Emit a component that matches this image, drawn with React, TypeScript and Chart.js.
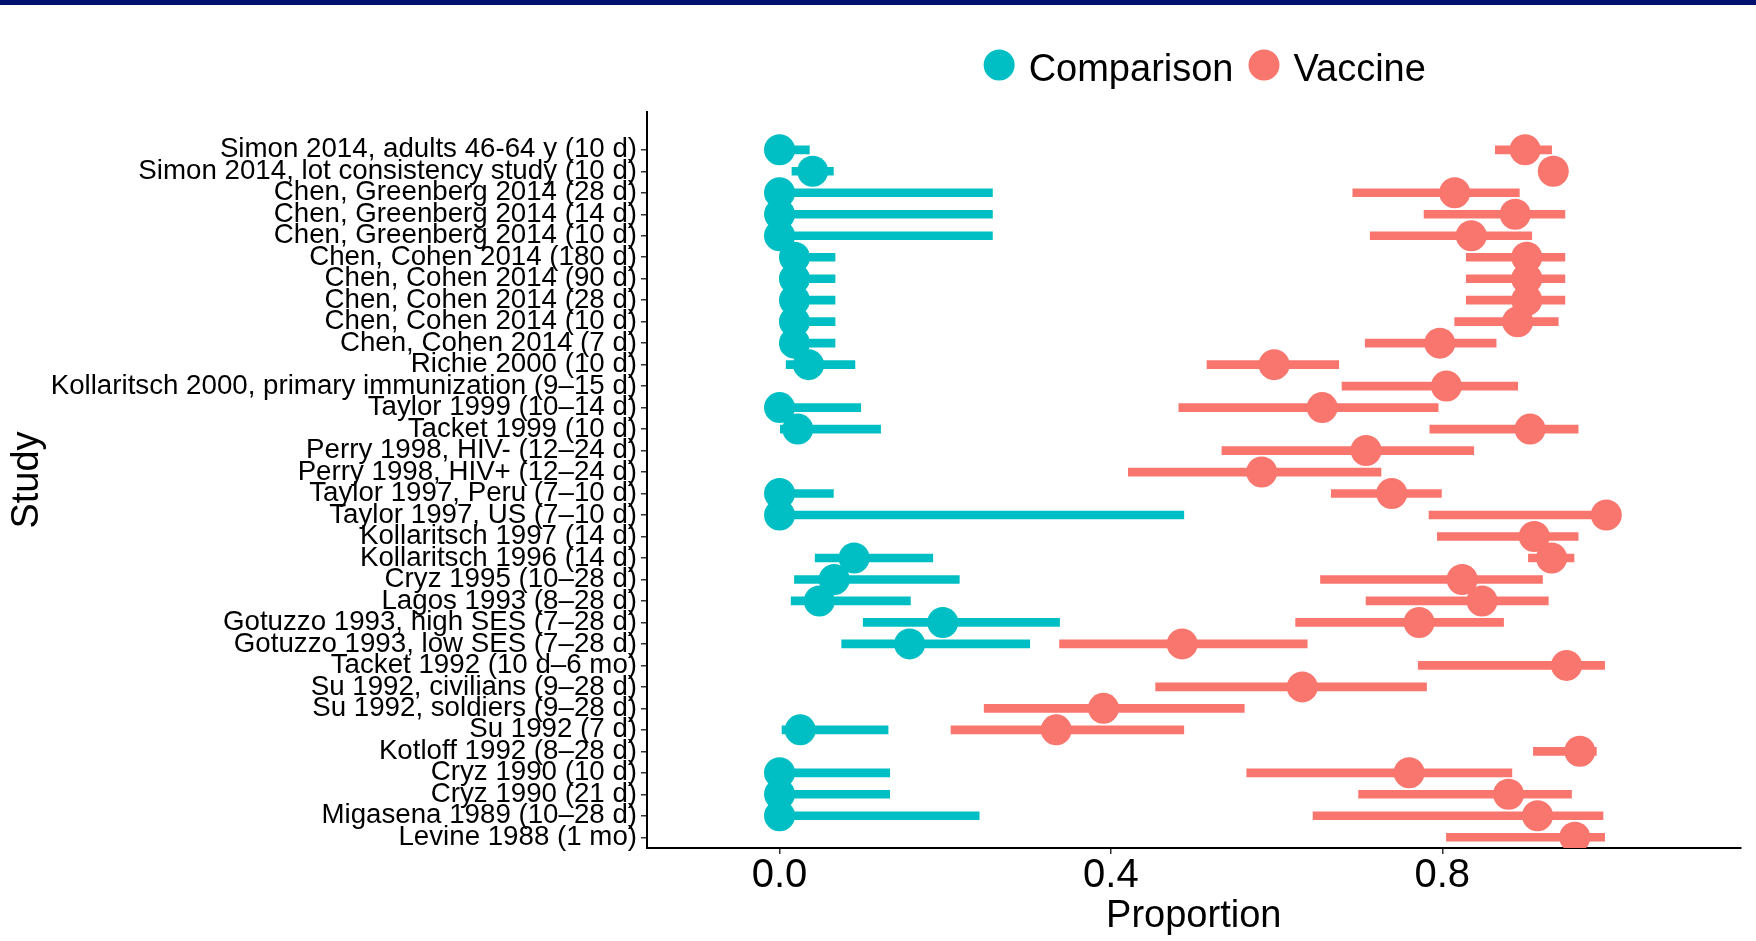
import React, { useEffect, useRef } from "react";
import { Chart, registerables } from "chart.js";

Chart.register(...registerables);

const FONT = '"Liberation Sans", Arial, Helvetica, sans-serif';

const studies: string[] = [
  "Simon 2014, adults 46-64 y (10 d)",
  "Simon 2014, lot consistency study (10 d)",
  "Chen, Greenberg 2014 (28 d)",
  "Chen, Greenberg 2014 (14 d)",
  "Chen, Greenberg 2014 (10 d)",
  "Chen, Cohen 2014 (180 d)",
  "Chen, Cohen 2014 (90 d)",
  "Chen, Cohen 2014 (28 d)",
  "Chen, Cohen 2014 (10 d)",
  "Chen, Cohen 2014 (7 d)",
  "Richie 2000 (10 d)",
  "Kollaritsch 2000, primary immunization (9–15 d)",
  "Taylor 1999 (10–14 d)",
  "Tacket 1999 (10 d)",
  "Perry 1998, HIV- (12–24 d)",
  "Perry 1998, HIV+ (12–24 d)",
  "Taylor 1997, Peru (7–10 d)",
  "Taylor 1997, US (7–10 d)",
  "Kollaritsch 1997 (14 d)",
  "Kollaritsch 1996 (14 d)",
  "Cryz 1995 (10–28 d)",
  "Lagos 1993 (8–28 d)",
  "Gotuzzo 1993, high SES (7–28 d)",
  "Gotuzzo 1993, low SES (7–28 d)",
  "Tacket 1992 (10 d–6 mo)",
  "Su 1992, civilians (9–28 d)",
  "Su 1992, soldiers (9–28 d)",
  "Su 1992 (7 d)",
  "Kotloff 1992 (8–28 d)",
  "Cryz 1990 (10 d)",
  "Cryz 1990 (21 d)",
  "Migasena 1989 (10–28 d)",
  "Levine 1988 (1 mo)",
];

// Comparison group (null = no comparison arm shown)
const comparisonEst: (number | null)[] = [
  0, 0.04, 0, 0, 0, 0.018, 0.018, 0.018, 0.018, 0.018,
  0.035, null, 0, 0.022, null, null, 0, 0, null, 0.09,
  0.066, 0.048, 0.197, 0.157, null, null, null, 0.025, null, 0,
  0, 0, null,
];
const comparisonLow: (number | null)[] = [
  0, 0.015, 0, 0, 0, 0, 0, 0, 0, 0,
  0.008, null, 0, 0, null, null, 0, 0, null, 0.043,
  0.018, 0.014, 0.101, 0.075, null, null, null, 0.003, null, 0,
  0, 0, null,
];
const comparisonHigh: (number | null)[] = [
  0.036, 0.065, 0.257, 0.257, 0.257, 0.067, 0.067, 0.067, 0.067, 0.067,
  0.091, null, 0.098, 0.122, null, null, 0.065, 0.488, null, 0.185,
  0.217, 0.158, 0.338, 0.302, null, null, null, 0.131, null, 0.133,
  0.133, 0.241, null,
];

// Vaccine group
const vaccineEst: number[] = [
  0.9, 0.934, 0.815, 0.888, 0.835, 0.902, 0.902, 0.902, 0.891, 0.797,
  0.597, 0.805, 0.655, 0.906, 0.708, 0.582, 0.739, 0.998, 0.911, 0.932,
  0.824, 0.848, 0.772, 0.486, 0.95, 0.631, 0.391, 0.334, 0.966, 0.76,
  0.88, 0.915, 0.96,
];
const vaccineLow: number[] = [
  0.864, 0.92, 0.692, 0.778, 0.713, 0.829, 0.829, 0.829, 0.815, 0.707,
  0.516, 0.679, 0.482, 0.785, 0.534, 0.421, 0.666, 0.784, 0.794, 0.904,
  0.653, 0.708, 0.623, 0.338, 0.771, 0.454, 0.247, 0.207, 0.91, 0.564,
  0.699, 0.644, 0.805,
];
const vaccineHigh: number[] = [
  0.932, 0.95, 0.893, 0.948, 0.908, 0.948, 0.948, 0.948, 0.94, 0.865,
  0.675, 0.891, 0.795, 0.964, 0.838, 0.726, 0.799, 1.0, 0.964, 0.959,
  0.921, 0.928, 0.874, 0.637, 0.996, 0.781, 0.561, 0.488, 0.986, 0.884,
  0.956, 0.994, 0.996,
];

const xTickValues: number[] = [0, 0.4, 0.8];
const seriesNames: string[] = ["Comparison", "Vaccine"];
const seriesColors: string[] = ["#00BFC4", "#F8766D"];

const N = studies.length;
const rowValue = (i: number) => N - i;

function toPoints(est: (number | null)[]) {
  return est.flatMap((v, i) => (v === null ? [] : [{ x: v, y: rowValue(i) }]));
}
function toRanges(est: (number | null)[], lo: (number | null)[], hi: (number | null)[]) {
  return est.flatMap((v, i) =>
    v === null ? [] : [{ x: [lo[i] as number, hi[i] as number], y: rowValue(i) }]
  );
}

const legendPlugin = {
  id: "customLegend",
  afterDraw(chart: any) {
    const ctx = chart.ctx as CanvasRenderingContext2D;
    const { left, right } = chart.chartArea;
    ctx.save();
    ctx.font = `38px ${FONT}`;
    const r = 15.5;
    const gap = 14;
    const itemGap = 15;
    const widths = seriesNames.map((s) => ctx.measureText(s).width);
    const total =
      widths.reduce((a, w) => a + 2 * r + gap + w, 0) + itemGap * (seriesNames.length - 1);
    let x = (left + right) / 2 + 11 - total / 2;
    const cy = 65;
    const baseline = 81;
    seriesNames.forEach((name, i) => {
      ctx.fillStyle = seriesColors[i];
      ctx.beginPath();
      ctx.arc(x + r, cy, r, 0, Math.PI * 2);
      ctx.fill();
      ctx.fillStyle = "#000";
      ctx.textAlign = "left";
      ctx.textBaseline = "alphabetic";
      ctx.fillText(name, x + 2 * r + gap, baseline);
      x += 2 * r + gap + widths[i] + itemGap;
    });
    ctx.restore();
  },
};

export default function App() {
  const canvasRef = useRef<HTMLCanvasElement | null>(null);

  useEffect(() => {
    if (!canvasRef.current) return;
    const gridOpts = {
      display: true,
      drawOnChartArea: false,
      drawTicks: true,
      tickLength: 6,
      color: "#333",
      lineWidth: 1.5,
      offset: false,
    };
    const borderOpts = { display: true, color: "#000", width: 2 };

    const chart = new Chart(canvasRef.current, {
      type: "scatter",
      data: {
        datasets: [
          {
            type: "scatter",
            label: seriesNames[0],
            data: toPoints(comparisonEst),
            backgroundColor: seriesColors[0],
            pointBackgroundColor: seriesColors[0],
            pointRadius: 15.5,
            pointHoverRadius: 15.5,
            pointBorderWidth: 0,
            borderWidth: 0,
            order: 1,
          } as any,
          {
            type: "scatter",
            label: seriesNames[1],
            data: toPoints(vaccineEst),
            backgroundColor: seriesColors[1],
            pointBackgroundColor: seriesColors[1],
            pointRadius: 15.5,
            pointHoverRadius: 15.5,
            pointBorderWidth: 0,
            borderWidth: 0,
            order: 1,
          } as any,
          {
            type: "bar",
            label: seriesNames[0] + " CI",
            indexAxis: "y",
            data: toRanges(comparisonEst, comparisonLow, comparisonHigh),
            backgroundColor: seriesColors[0],
            borderWidth: 0,
            barThickness: 8,
            maxBarThickness: 8,
            grouped: false,
            order: 2,
          } as any,
          {
            type: "bar",
            label: seriesNames[1] + " CI",
            indexAxis: "y",
            data: toRanges(vaccineEst, vaccineLow, vaccineHigh),
            backgroundColor: seriesColors[1],
            borderWidth: 0,
            barThickness: 8,
            maxBarThickness: 8,
            grouped: false,
            order: 2,
          } as any,
        ],
      },
      options: {
        responsive: false,
        animation: false,
        devicePixelRatio: 1,
        events: [],
        layout: { padding: { top: 112, right: 4, bottom: 0, left: 0 } },
        plugins: {
          legend: { display: false },
          tooltip: { enabled: false },
        },
        scales: {
          x: {
            type: "linear",
            position: "bottom",
            min: -0.16,
            max: 1.16,
            offset: false,
            stacked: false,
            beginAtZero: false,
            afterBuildTicks: (s: any) => {
              s.ticks = xTickValues.map((v) => ({ value: v }));
            },
            afterFit: (s: any) => {
              s.height = 93;
            },
            ticks: {
              autoSkip: false,
              maxRotation: 0,
              padding: 0,
              color: "#000",
              font: { family: FONT, size: 40, lineHeight: 1.1 },
              callback: (v: any) => Number(v).toFixed(1),
            },
            grid: gridOpts,
            border: borderOpts,
            title: {
              display: true,
              text: "Proportion",
              color: "#000",
              font: { family: FONT, size: 38, lineHeight: 1.2 },
              padding: { top: 0, bottom: 2 },
            },
          },
          y: {
            type: "linear",
            position: "left",
            min: 0.5,
            max: 34.76,
            offset: false,
            stacked: false,
            beginAtZero: false,
            afterBuildTicks: (s: any) => {
              s.ticks = studies.map((_, i) => ({ value: rowValue(i) })).reverse();
            },
            afterFit: (s: any) => {
              s.width = 647;
            },
            ticks: {
              autoSkip: false,
              padding: 4,
              color: "#000",
              font: { family: FONT, size: 27.7, lineHeight: 1 },
              callback: (v: any) => studies[N - Number(v)],
            },
            grid: gridOpts,
            border: borderOpts,
            title: {
              display: true,
              text: "Study",
              color: "#000",
              font: { family: FONT, size: 38, lineHeight: 1.2 },
              padding: { top: 5, bottom: 0 },
            },
          },
        },
      } as any,
      plugins: [legendPlugin],
    });

    return () => {
      chart.destroy();
    };
  }, []);

  return (
    <div
      style={{
        position: "absolute",
        left: 0,
        top: 0,
        width: 1756,
        height: 941,
        background: "#fff",
        overflow: "hidden",
      }}
    >
      <canvas
        ref={canvasRef}
        width={1756}
        height={941}
        style={{ position: "absolute", left: 0, top: 0, width: 1756, height: 941 }}
      />
      <div
        style={{
          position: "absolute",
          left: 0,
          top: 0,
          width: 1756,
          height: 5,
          background: "#00126e",
        }}
      />
    </div>
  );
}
